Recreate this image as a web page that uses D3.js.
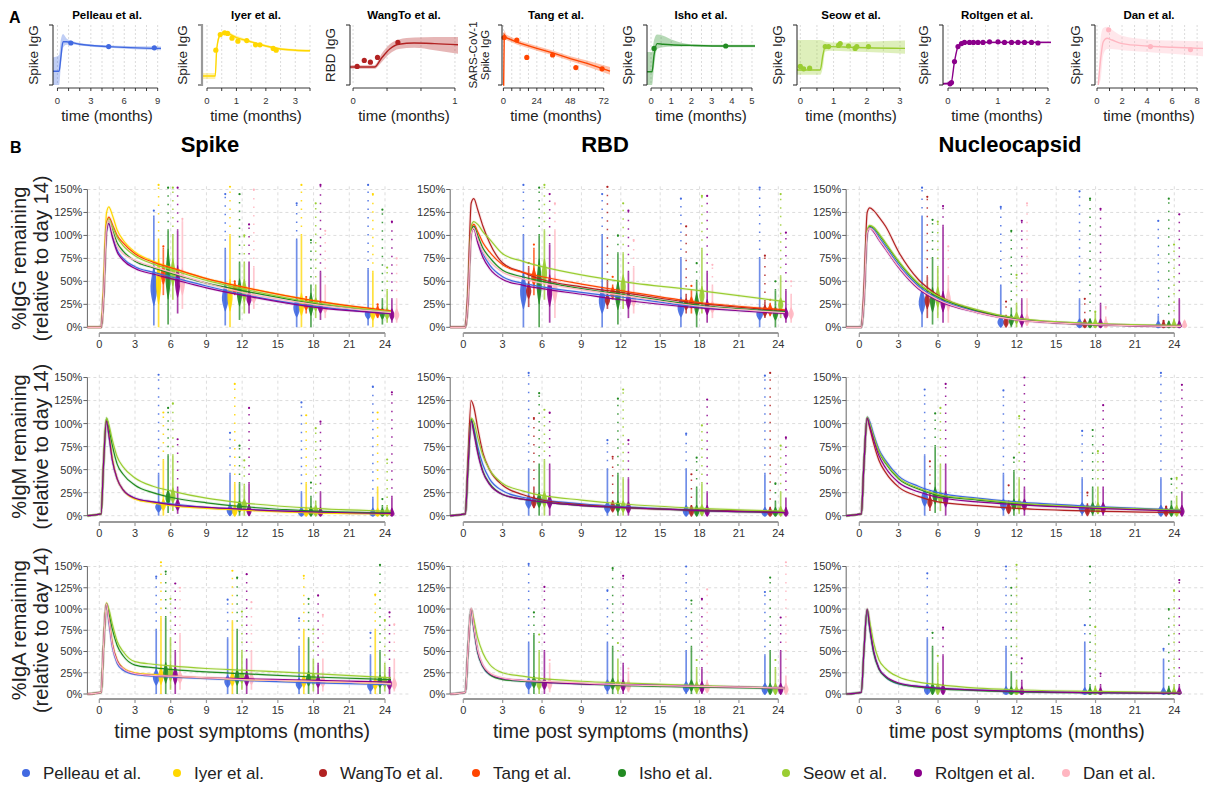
<!DOCTYPE html>
<html><head><meta charset="utf-8">
<script src="https://cdn.jsdelivr.net/npm/d3@7"></script>
<style>body{margin:0;background:#fff;} svg{display:block;font-family:"Liberation Sans",Arial,sans-serif;}</style>
</head><body><svg id="c" width="1205" height="789"></svg>
<script>
// ---------- shared ----------
const STUDIES = ["Pelleau","Iyer","WangTo","Tang","Isho","Seow","Roltgen","Dan"];
const STUDY_LABELS = ["Pelleau et al.","Iyer et al.","WangTo et al.","Tang et al.","Isho et al.","Seow et al.","Roltgen et al.","Dan et al."];
const STUDY_COLORS = ["#4169E1","#FFD700","#B22222","#FF4500","#228B22","#9ACD32","#8B008B","#FFB6C1"];

// ---------- panel A (per-study fits, arbitrary y units 0..1) ----------
const A_YLABELS = [["Spike IgG"],["Spike IgG"],["RBD IgG"],["SARS-CoV-1","Spike IgG"],["Spike IgG"],["Spike IgG"],["Spike IgG"],["Spike IgG"]];
const A_XDOMAIN = [[-0.4,9.3],[-0.17,3.5],[-0.03,1.03],[-1,76.5],[-0.2,5.15],[-0.1,3.15],[-0.1,2.06],[-0.16,8.47]];
const A_XTICK_STEP = [1,0.5,1/3,6,0.5,0.5,0.25,1];
const A_XLABELS = [[0,3,6,9],[0,1,2,3],[0,1],[0,24,48,72],[0,1,2,3,4,5],[0,1,2,3],[0,1,2],[0,2,4,6,8]];
const A_CURVE_T = [
  [-0.4,0.15,0.3,0.5,0.8,1.2,2,4.6,9.3],
  [-0.17,0.28,0.33,0.45,0.6,1.0,1.5,2.0,2.5,3.0,3.5],
  [-0.03,0.21,0.28,0.36,0.45,0.6,0.8,1.03],
  [-0.3,0.2,0.6,2,10,24,36,48,60,76.5],
  [-0.2,0.05,0.15,0.3,0.6,1,2,3.7,5.15],
  [-0.1,0.6,0.68,0.75,0.9,1.5,2,3.15],
  [-0.1,0.06,0.13,0.2,0.27,0.4,1,2.06],
  [0.1,0.3,0.5,0.8,1.2,2,4,6,8.47]
];
const A_CURVE_MID = [
  [0.23,0.23,0.45,0.72,0.72,0.71,0.68,0.64,0.61],
  [0.15,0.15,0.6,0.84,0.87,0.79,0.72,0.65,0.6,0.58,0.57],
  [0.30,0.30,0.45,0.6,0.68,0.70,0.69,0.67],
  [0,0,0.84,0.79,0.71,0.61,0.53,0.44,0.36,0.23],
  [0.22,0.22,0.5,0.69,0.68,0.67,0.66,0.65,0.65],
  [0.25,0.25,0.5,0.64,0.64,0.63,0.62,0.61],
  [0.02,0.03,0.39,0.64,0.69,0.71,0.71,0.71],
  [0,0.45,0.72,0.78,0.75,0.69,0.65,0.63,0.61]
];
const A_CURVE_LO = [
  [0,0,0.3,0.62,0.67,0.68,0.66,0.62,0.58],
  [0.1,0.1,0.55,0.8,0.84,0.76,0.7,0.63,0.58,0.56,0.55],
  [0.27,0.27,0.38,0.52,0.6,0.62,0.58,0.52],
  [0,0,0.78,0.75,0.67,0.57,0.49,0.4,0.31,0.17],
  [0,0,0.3,0.6,0.63,0.64,0.64,0.63,0.63],
  [0.17,0.17,0.3,0.56,0.57,0.56,0.55,0.52],
  [0,0.01,0.37,0.62,0.67,0.69,0.69,0.69],
  [0,0.1,0.5,0.6,0.6,0.58,0.55,0.52,0.48]
];
const A_CURVE_HI = [
  [0.46,0.5,0.75,0.85,0.78,0.74,0.70,0.66,0.64],
  [0.2,0.2,0.65,0.88,0.9,0.82,0.74,0.67,0.62,0.6,0.59],
  [0.33,0.33,0.52,0.68,0.76,0.79,0.80,0.80],
  [0,0,0.92,0.84,0.75,0.65,0.57,0.48,0.41,0.3],
  [0.55,0.55,0.75,0.84,0.82,0.76,0.68,0.67,0.67],
  [0.75,0.75,0.74,0.72,0.71,0.71,0.72,0.74],
  [0.04,0.05,0.41,0.66,0.71,0.73,0.73,0.73],
  [0,0.8,0.95,0.97,0.92,0.82,0.76,0.74,0.73]
];
const A_POINT_T = [
  [1.2,4.6,8.7],
  [0.3,0.45,0.6,0.7,0.85,1.05,1.35,1.65,1.8,2.25,2.35],
  [0.04,0.11,0.17,0.24,0.44],
  [0.5,9.6,16.8,35.3,52,70.8],
  [0.15,3.7],
  [0.0,0.1,0.28,0.75,0.85,1.15,1.2,1.45,1.65,1.7,2.05],
  [0.04,0.07,0.13,0.2,0.27,0.33,0.43,0.51,0.6,0.7,0.83,1.0,1.13,1.27,1.4,1.53,1.67,1.8],
  [0.93,4.27,7.47]
];
const A_POINT_V = [
  [0.70,0.64,0.62],
  [0.58,0.84,0.87,0.86,0.78,0.73,0.74,0.67,0.67,0.61,0.58],
  [0.31,0.41,0.38,0.46,0.71],
  [0.79,0.75,0.46,0.5,0.29,0.27],
  [0.61,0.65],
  [0.31,0.27,0.28,0.64,0.64,0.66,0.69,0.65,0.61,0.64,0.64],
  [0.02,0.04,0.39,0.64,0.69,0.71,0.71,0.71,0.71,0.71,0.72,0.72,0.71,0.71,0.71,0.71,0.71,0.70],
  [0.92,0.64,0.59]
];

// ---------- panel B ----------
const COLUMN_TITLES = ["Spike","RBD","Nucleocapsid"];
const ROW_LABELS = ["%IgG remaining","%IgM remaining","%IgA remaining"];
const PCT_TICKS = [0,25,50,75,100,125,150];
const MONTH_TICKS = [0,3,6,9,12,15,18,21,24];
const T_GRID = [-1,0.15,0.35,0.6,0.8,1.1,1.5,2,3,4.5,6,9,12,18,24.5];
// rows: [study, fitted % on T_GRID, cluster low, median, dense top, max outlier at ~6/12/18/24 months]
const SPIKE_IGG = [
 ["Pelleau",[0,0,32,104,113,100,84,75,66,60,55,45,36,23,15],[2,2,0,2],[45,33,22,15],[120,85,95,63],[127,145,135,155]],
 ["Iyer",[0,0,40,124,131,122,106,95,82,72,65,53,44,29,17],[0,0,0,0],[50,35,25,15],[95,100,100,60],[155,153,155,145]],
 ["Tang",[0,0,35,112,120,112,100,92,80,71,65,53,44,29,18],[35,35,15,10],[58,42,25,17],[85,50,30,25],[88,50,33,25]],
 ["Isho",[0,0,33,108,117,106,92,83,72,65,59,48,40,26,16],[3,8,0,3],[58,38,25,15],[105,70,45,30],[152,145,95,128]],
 ["Seow",[0,0,35,110,118,110,98,89,78,69,63,51,42,27,17],[30,15,10,5],[60,40,25,15],[100,70,45,40],[152,100,135,65]],
 ["Roltgen",[0,0,32,104,113,98,82,73,64,58,53,43,35,22,15],[15,15,8,5],[50,32,22,14],[105,70,60,30],[152,112,155,115]],
 ["Dan",[0,0,33,108,117,104,88,80,73,66,60,48,38,25,16],[20,20,10,5],[50,33,22,14],[115,65,45,30],[118,150,105,75]]
];
const RBD_IGG = [
 ["Pelleau",[0,0,30,105,110,96,80,68,55,48,44,38,33,22,16],[0,0,0,0],[40,30,22,15],[100,100,75,75],[155,145,140,152]],
 ["WangTo",[0,0,40,135,140,128,110,92,70,60,52,44,38,26,18],[22,20,15,10],[40,30,25,18],[65,50,35,28],[70,153,110,78]],
 ["Tang",[0,0,30,106,112,104,92,82,68,60,55,47,40,27,19],[35,30,15,12],[55,38,27,19],[85,45,40,25],[90,55,45,30]],
 ["Isho",[0,0,30,104,110,100,86,76,62,55,50,42,36,24,17],[0,3,0,0],[50,35,25,15],[100,80,50,40],[152,100,70,50]],
 ["Seow",[0,0,30,110,115,112,104,96,80,72,66,57,50,40,28],[30,20,15,10],[60,45,35,25],[105,80,85,55],[155,135,143,145]],
 ["Roltgen",[0,0,28,102,107,92,76,64,52,46,42,36,30,21,15],[5,10,5,5],[40,30,22,15],[90,60,60,40],[145,127,143,103]],
 ["Dan",[0,0,28,102,108,96,82,72,60,53,48,41,35,23,16],[10,15,10,5],[42,30,22,15],[105,65,45,35],[135,95,68,50]]
];
const NUC_IGG = [
 ["Pelleau",[0,0,30,103,109,106,98,88,68,45,31,17,9,3,1],[0,0,0,0],[28,6,3,1],[120,45,30,13],[152,131,148,116]],
 ["WangTo",[0,0,40,125,130,127,120,110,82,52,35,18,9,3,1],[10,2,0,0],[30,6,3,1],[55,12,6,5],[142,28,31,7]],
 ["Isho",[0,0,30,104,110,108,101,91,71,47,33,18,9,3,1.5],[3,0,0,0],[30,8,3,1],[75,20,8,5],[117,105,140,140]],
 ["Seow",[0,0,30,105,111,109,102,92,72,48,34,19,10,4,2],[10,0,0,0],[33,10,3,2],[65,25,15,8],[115,57,17,90]],
 ["Roltgen",[0,0,30,102,108,104,95,85,65,42,29,16,8,3,1],[5,0,0,0],[28,8,3,1],[110,30,25,30],[132,116,129,123]],
 ["Dan",[0,0,30,103,108,105,96,86,66,43,30,16,8,3,1],[5,2,0,0],[30,8,3,2],[55,30,10,5],[88,135,22,6]]
];
const SPIKE_IGM = [
 ["Pelleau",[0,2,52,102,87,60,40,28,19,15,13,9,7,4,2.5],[0,0,0,0],[10,6,3,2],[45,45,25,19],[153,90,123,140]],
 ["Iyer",[0,2,55,104,90,62,40,28,18,14,11,8,6,3,2],[0,0,0,0],[12,5,3,2],[60,35,35,30],[112,143,109,112]],
 ["Isho",[0,2,55,106,96,76,56,45,33,25,20,14,10,5,3],[3,0,0,0],[20,10,4,2],[65,35,20,10],[117,76,36,18]],
 ["Seow",[0,2,55,106,99,82,64,53,41,32,27,19,14,8,5],[5,0,0,0],[22,12,5,3],[65,33,15,10],[122,60,95,61]],
 ["Roltgen",[0,2,55,103,88,60,40,28,19,15,12,9,7,4,2.5],[2,0,0,0],[12,6,3,2],[30,35,25,20],[83,117,102,134]]
];
const RBD_IGM = [
 ["Pelleau",[0,2,50,104,95,75,55,40,27,20,17,13,10,6,4],[0,0,0,0],[15,9,5,3],[50,50,50,45],[155,82,89,152]],
 ["WangTo",[0,2,60,125,118,95,68,50,33,23,17,12,9,6,4],[8,5,2,1],[15,10,5,3],[30,15,10,8],[106,64,45,155]],
 ["Isho",[0,2,50,105,93,70,48,35,23,18,15,11,9,5.5,3.5],[0,0,0,0],[17,10,5,3],[55,45,30,15],[133,127,63,35]],
 ["Seow",[0,2,50,106,102,85,65,50,35,27,22,17,13,8,5],[0,0,0,0],[18,10,6,4],[60,40,35,25],[115,137,98,76]],
 ["Roltgen",[0,2,50,103,90,68,47,34,23,18,15,11,9,5.5,3.5],[0,0,0,0],[15,9,5,3],[55,40,25,18],[112,82,126,85]]
];
const NUC_IGM = [
 ["Pelleau",[0,2,55,107,102,88,72,60,43,32,25,19,15,10,6],[0,0,0,0],[20,12,8,5],[65,45,40,40],[137,136,92,155]],
 ["WangTo",[0,2,55,106,95,78,60,47,31,21,15,11,8,5,3.5],[5,3,2,2],[15,8,6,4],[25,15,12,8],[59,33,25,10]],
 ["Isho",[0,2,55,106,99,85,69,57,40,29,22,17,13,9,5.5],[3,0,0,0],[22,12,8,5],[75,48,30,15],[111,63,93,40]],
 ["Seow",[0,2,55,107,100,86,70,58,41,30,23,18,14,9,6],[5,2,2,0],[20,12,8,5],[55,40,30,20],[117,108,70,41]],
 ["Roltgen",[0,2,55,106,97,82,65,52,36,26,20,15,12,8,5],[0,0,0,0],[18,12,8,5],[55,30,30,25],[143,150,120,142]]
];
const SPIKE_IGA = [
 ["Pelleau",[0,2,55,105,85,55,36,28,23,21,20,18,16,13,11],[0,0,0,0],[20,15,12,10],[75,65,55,45],[138,111,89,72]],
 ["Iyer",[0,2,55,107,90,60,40,31,25,23,21,19,17,15,12],[0,0,0,0],[22,18,15,12],[90,85,75,75],[155,145,139,117]],
 ["Isho",[0,2,55,106,96,76,57,45,34,31,29,26,24,20,17],[0,0,0,0],[25,20,18,15],[90,75,65,50],[144,137,112,152]],
 ["Seow",[0,2,55,107,100,82,62,50,38,35,33,30,28,24,19],[5,5,3,3],[25,20,18,15],[65,50,40,35],[112,97,76,87]],
 ["Roltgen",[0,2,55,106,88,58,39,30,24,22,21,19,18,16,14],[0,0,0,0],[22,18,15,12],[50,40,35,30],[130,141,116,96]],
 ["Dan",[0,2,55,106,88,57,38,30,24,22,21,19,17,15,12],[5,5,3,3],[20,18,15,12],[70,50,40,40],[125,108,93,82]]
];
const RBD_IGA = [
 ["Pelleau",[0,2,50,100,78,49,32,23,18,15,14,12,11,9,7],[0,0,0,0],[12,10,8,6],[60,60,50,45],[153,122,150,120]],
 ["Isho",[0,2,50,100,78,49,32,23,17,15,14,12,10,8,6.5],[0,0,0,0],[14,12,10,6],[70,55,55,50],[96,148,110,137]],
 ["Seow",[0,2,50,100,88,66,48,35,25,21,18,15,13,10,7],[0,0,0,0],[12,10,8,6],[50,40,30,30],[70,60,40,40]],
 ["Roltgen",[0,2,50,100,79,50,33,24,18,16,14,12,11,9,7],[0,0,0,0],[12,10,8,6],[50,35,30,50],[126,139,112,90]],
 ["Dan",[0,2,50,101,80,52,34,25,19,16,15,13,11,9,7],[2,2,2,2],[12,10,8,6],[35,25,15,20],[40,30,123,155]]
];
const NUC_IGA = [
 ["Pelleau",[0,2,50,99,77,49,30,20,12,9,7,4.5,3,1.5,1],[0,0,0,0],[5,2,1,1],[65,55,60,40],[142,150,81,53]],
 ["Isho",[0,2,50,99,77,48,29,20,12,8,6,4,2.5,1.5,1],[0,0,0,0],[6,2,1,1],[55,25,10,8],[72,125,150,100]],
 ["Seow",[0,2,50,100,85,60,40,30,20,14,11,7,5,3,1.5],[0,0,0,0],[6,2,1,1],[35,15,8,10],[45,152,79,122]],
 ["Roltgen",[0,2,50,100,78,50,30,21,13,9,7,4.5,3,1.5,1],[0,0,0,0],[5,2,1,1],[45,15,10,10],[78,42,24,134]]
];

// ---------- drawing ----------
const svg = d3.select("#c");
const colorOf = s => STUDY_COLORS[STUDIES.indexOf(s)];

svg.append("text").attr("x",9).attr("y",23).attr("font-size",16).attr("font-weight","bold").text("A");
svg.append("text").attr("x",10).attr("y",153).attr("font-size",16).attr("font-weight","bold").text("B");

// ---- Panel A ----
const A_AXIS_X = [53,202,350,502,647,797,943,1095];
STUDIES.forEach((s,i)=>{
  const ax = A_AXIS_X[i], col = STUDY_COLORS[i];
  const dom = A_XDOMAIN[i];
  const x = d3.scaleLinear().domain(dom).range([ax, ax+108]);
  const y = d3.scaleLinear().domain([0,1]).range([85,25]);
  const g = svg.append("g");
  const step = A_XTICK_STEP[i];
  const ticks = d3.range(Math.ceil(dom[0]/step - 1e-9), Math.floor(dom[1]/step + 1e-9)+1).map(k=>k*step);
  g.selectAll(".gv").data(ticks).join("line")
    .attr("x1",d=>x(d)).attr("x2",d=>x(d)).attr("y1",25).attr("y2",85)
    .attr("stroke","#d2d2d2").attr("stroke-width",0.8).attr("stroke-dasharray","2,2");
  const pts = A_CURVE_T[i].map((t,k)=>({t, m:A_CURVE_MID[i][k], lo:A_CURVE_LO[i][k], hi:A_CURVE_HI[i][k]}));
  const cv = i===3 ? d3.curveLinear : d3.curveMonotoneX;
  g.append("path").datum(pts)
    .attr("d", d3.area().x(d=>x(d.t)).y0(d=>y(d.lo)).y1(d=>y(d.hi)).curve(cv))
    .attr("fill",col).attr("fill-opacity",0.33);
  g.append("path").datum(pts)
    .attr("d", d3.line().x(d=>x(d.t)).y(d=>y(d.m)).curve(cv))
    .attr("fill","none").attr("stroke",col).attr("stroke-width",1.4);
  g.selectAll(".p").data(A_POINT_T[i].map((t,k)=>[t,A_POINT_V[i][k]])).join("circle")
    .attr("cx",d=>x(d[0])).attr("cy",d=>y(d[1])).attr("r",2.6).attr("fill",col);
  const yAxCol = i===1 ? "#999" : "#222";
  g.append("path").attr("d",`M${ax-4},25H${ax}V85H${ax-4}`).attr("fill","none")
    .attr("stroke",yAxCol).attr("stroke-width", i===1?2.2:1);
  g.append("line").attr("x1",x(ticks[0])).attr("x2",x(ticks[ticks.length-1])).attr("y1",88).attr("y2",88).attr("stroke","#222").attr("stroke-width",0.9);
  g.selectAll(".xt").data(ticks).join("line").attr("x1",d=>x(d)).attr("x2",d=>x(d)).attr("y1",88).attr("y2",91).attr("stroke","#222").attr("stroke-width",0.9);
  g.selectAll(".xl").data(A_XLABELS[i]).join("text").attr("x",d=>x(d)).attr("y",104)
    .attr("text-anchor","middle").attr("font-size",9.5).attr("fill","#333").text(d=>d);
  g.append("text").attr("x",ax+54).attr("y",121).attr("text-anchor","middle").attr("font-size",15).attr("fill","#222").text("time (months)");
  g.append("text").attr("x",ax+54).attr("y",19).attr("text-anchor","middle").attr("font-size",11.5).attr("font-weight","bold").text(STUDY_LABELS[i]);
  const yl = A_YLABELS[i];
  yl.forEach((t,k)=>{
    const lx = yl.length===1 ? ax-15 : ax-25 + k*12;
    g.append("text").attr("transform",`translate(${lx},55) rotate(-90)`).attr("text-anchor","middle")
      .attr("font-size", yl.length===1?13.5:11.5).attr("fill","#222").text(t);
  });
});

// ---- Panel B ----
const COL_X = [[99.3,385],[463.3,778.3],[859.3,1174.3]];
const ROW_Y = [[327.3,189.5,333],[515.7,377.5,522],[694,566.5,699]];
const PANELS = [[SPIKE_IGG,SPIKE_IGM,SPIKE_IGA],[RBD_IGG,RBD_IGM,RBD_IGA],[NUC_IGG,NUC_IGM,NUC_IGA]];
const COL_TITLE_X = [210,605,1010];

COLUMN_TITLES.forEach((t,c)=>{
  svg.append("text").attr("x",COL_TITLE_X[c]).attr("y",152).attr("text-anchor","middle")
    .attr("font-size",22).attr("font-weight","bold").text(t);
});
ROW_LABELS.forEach((t,r)=>{
  const cy = (ROW_Y[r][0]+ROW_Y[r][1])/2;
  svg.append("text").attr("transform",`translate(26,${cy}) rotate(-90)`).attr("text-anchor","middle").attr("font-size",20).attr("fill","#222").text(t);
  svg.append("text").attr("transform",`translate(48,${cy}) rotate(-90)`).attr("text-anchor","middle").attr("font-size",20).attr("fill","#222").text("(relative to day 14)");
});

function drawCluster(g, cx, y, color, lo, med, hi, mx, w){
  g.append("line").attr("x1",cx).attr("x2",cx).attr("y1",y(lo)).attr("y2",y(hi))
    .attr("stroke",color).attr("stroke-width",1.7).attr("opacity",0.75);
  if (mx > hi) {
    g.append("line").attr("x1",cx).attr("x2",cx).attr("y1",y(hi)).attr("y2",y(mx))
      .attr("stroke",color).attr("stroke-width",1.5).attr("stroke-dasharray","1.5,7").attr("opacity",0.85);
  }
  g.append("circle").attr("cx",cx).attr("cy",y(mx)).attr("r",1.1).attr("fill",color);
  let yb0 = y((lo+med)/2), yb1 = y(Math.min(hi, med + (med-lo)/2));
  const ym = y(med), base = y(0)+1;
  if (yb0 - ym < 6) yb0 = Math.min(base, ym+6);
  if (ym - yb1 < 6) yb1 = ym-6;
  const shape = [[yb0,0.4],[(yb0+ym)/2,w*0.75],[ym,w],[(ym+yb1)/2,w*0.55],[yb1,0.4]];
  g.append("path").datum(shape)
    .attr("d", d3.area().y(d=>d[0]).x0(d=>cx-d[1]).x1(d=>cx+d[1]).curve(d3.curveBasis))
    .attr("fill",color).attr("opacity",0.9);
}

PANELS.forEach((colData,c)=>colData.forEach((rows,r)=>{
  const x = d3.scaleLinear().domain([0,24]).range(COL_X[c]);
  const y = d3.scaleLinear().domain([0,150]).range([ROW_Y[r][0],ROW_Y[r][1]]);
  const g = svg.append("g");
  const xl = x(-1), xr = x(26.2);
  g.selectAll(".hg").data(PCT_TICKS).join("line")
    .attr("x1",xl).attr("x2",xr).attr("y1",d=>y(d)).attr("y2",d=>y(d))
    .attr("stroke","#d4d4d4").attr("stroke-width",0.8).attr("stroke-dasharray","3,3");
  g.selectAll(".vg").data(MONTH_TICKS).join("line")
    .attr("x1",d=>x(d)).attr("x2",d=>x(d)).attr("y1",y(0)).attr("y2",y(156))
    .attr("stroke","#d4d4d4").attr("stroke-width",0.8).attr("stroke-dasharray","3,3");
  g.append("line").attr("x1",xl).attr("x2",xl).attr("y1",y(0)).attr("y2",y(150)).attr("stroke","#666").attr("stroke-width",1);
  g.selectAll(".yt").data(PCT_TICKS).join("line").attr("x1",xl-4).attr("x2",xl).attr("y1",d=>y(d)).attr("y2",d=>y(d)).attr("stroke","#666");
  g.selectAll(".yl").data(PCT_TICKS).join("text").attr("x",xl-5).attr("y",d=>y(d)).attr("dy","0.36em")
    .attr("text-anchor","end").attr("font-size",11).attr("fill","#333").text(d=>d+"%");
  const ay = ROW_Y[r][2];
  g.append("line").attr("x1",x(0)).attr("x2",x(24)).attr("y1",ay).attr("y2",ay).attr("stroke","#999").attr("stroke-width",2);
  g.selectAll(".xt").data(MONTH_TICKS).join("line").attr("x1",d=>x(d)).attr("x2",d=>x(d)).attr("y1",ay).attr("y2",ay+4).attr("stroke","#999").attr("stroke-width",1.2);
  g.selectAll(".xl").data(MONTH_TICKS).join("text").attr("x",d=>x(d)).attr("y",ay+14.5)
    .attr("text-anchor","middle").attr("font-size",11).attr("fill","#333").text(d=>d);
  const n = rows.length;
  rows.forEach((row,k)=>{
    const col = colorOf(row[0]);
    const w = row[0]==="Pelleau" ? 3.8 : 3;
    for (let j=0;j<4;j++){
      const t = 5.78 + 6*j + 0.4*(k-(n-1)/2);
      drawCluster(g, x(t), y, col, row[2][j], row[3][j], row[4][j], row[5][j], w);
    }
  });
  const line = d3.line().x((d,i)=>x(T_GRID[i])).y(d=>y(d)).curve(d3.curveMonotoneX);
  rows.forEach(row=>{
    g.append("path").attr("d",line(row[1])).attr("fill","none").attr("stroke",colorOf(row[0])).attr("stroke-width",3).attr("stroke-opacity",0.12);
  });
  rows.forEach(row=>{
    g.append("path").attr("d",line(row[1])).attr("fill","none").attr("stroke",colorOf(row[0])).attr("stroke-width",1.2);
  });
  if (r===2) {
    g.append("text").attr("x",(x(0)+x(24))/2).attr("y",738).attr("text-anchor","middle").attr("font-size",19.5).attr("fill","#222").text("time post symptoms (months)");
  }
}));

// ---- Legend ----
const LEG_X = [26,177,323,476,622,786,918,1066];
const leg = svg.append("g");
STUDIES.forEach((s,i)=>{
  leg.append("circle").attr("cx",LEG_X[i]).attr("cy",773).attr("r",4).attr("fill",STUDY_COLORS[i]);
  leg.append("text").attr("x",LEG_X[i]+17).attr("y",779).attr("font-size",17).attr("fill","#222").text(STUDY_LABELS[i]);
});
</script>
</body></html>
